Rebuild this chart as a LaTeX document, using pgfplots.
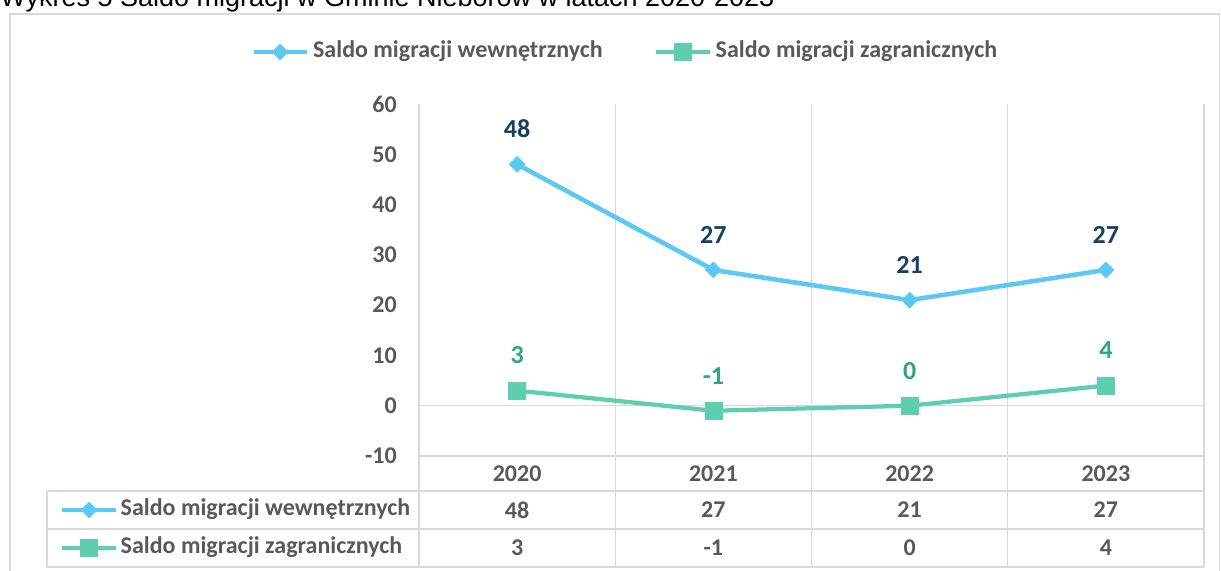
\documentclass[border=0pt]{standalone}
\usepackage{pgfplots}
\usepackage{pgfplotstable}
\pgfplotsset{compat=1.18}
\usepackage{fontspec}
\setmainfont{Carlito}
\newfontfamily\arialf{Liberation Sans}

\definecolor{txt}{HTML}{595959}
\definecolor{grd}{HTML}{D9D9D9}
\definecolor{blu}{HTML}{5BC9F3}
\definecolor{grn}{HTML}{5DCFAF}
\definecolor{navylab}{HTML}{173F62}
\definecolor{grnlab}{HTML}{2FA584}

\pgfplotstableread{
x year w z
0 2020 48 3
1 2021 27 -1
2 2022 21 0
3 2023 27 4
}\migr

\tikzset{lbl/.style={font=\bfseries\fontsize{18}{21}\selectfont}}
\pgfplotsset{
  legimg/.style={
    legend image code/.code={\draw[mark repeat=2,mark phase=2,##1] plot coordinates {(0pt,0pt) (20pt,0pt) (40pt,0pt)};},
    legend cell align=left,
  },
  sblue/.style={blu, line width=3.4pt, line join=round, mark=diamond*, mark size=6pt, mark options={solid, line width=0.4pt, xscale=1.33}},
  sgreen/.style={grn, line width=3.2pt, line join=round, mark=square*, mark size=6.4pt, mark options={solid, line width=0.4pt}},
}

\begin{document}
\begin{tikzpicture}[x=0.75pt,y=-0.75pt]
\useasboundingbox (0,0) rectangle (1221,571);
\node[anchor=base west, inner sep=0pt, font=\arialf\fontsize{20.25}{24}\selectfont] at (0,7) {Wykres 5 Saldo migracji w Gminie Nieborów w latach 2020-2023};
\draw[grd, line width=1.2pt] (10,14) rectangle (1219.5,640);

% siatka wykresu i tabeli danych
\begin{scope}[grd, line width=1.1pt]
\foreach \x in {419,615.25,811.5,1007.75,1204} \draw (\x,104) -- (\x,567);
\draw (419,405.7) -- (1204,405.7);
\draw (419,456) -- (1204,456);
\foreach \y in {491,529,567} \draw (47,\y) -- (1204,\y);
\draw (47,491) -- (47,567);
\end{scope}

\begin{axis}[
  at={(314.25pt,-342pt)}, anchor=south west,
  width=588.75pt, height=264pt, scale only axis,
  xmin=-0.5, xmax=3.5, ymin=-10, ymax=60,
  axis line style={draw=none}, major tick length=0pt, minor tick length=0pt,
  ytick={-10,0,...,60},
  xtick={0,1,2,3}, xticklabels={2020,2021,2022,2023},
  yticklabel style={lbl, text=txt, inner sep=0pt, anchor=east, xshift=-16.5pt},
  xticklabel style={lbl, text=txt, inner sep=0pt, anchor=center, yshift=-13pt},
  /pgf/number format/assume math mode=true,
  clip=false,
  legimg,
  legend columns=2,
  legend style={at={(-0.2140,1.1477)}, anchor=west, draw=none, fill=none, inner sep=0pt,
    lbl, text=txt, nodes={inner sep=0pt, text height=12pt, text depth=4pt},
    /tikz/every odd column/.append style={column sep=3pt},
    /tikz/every even column/.append style={column sep=38.5pt}},
]
\addplot[sblue, nodes near coords, every node near coord/.append style={font=\bfseries\fontsize{19.5}{22}\selectfont, text=navylab, anchor=base, yshift=20pt}] table[x=x,y=w] {\migr};
\addlegendentry{Saldo migracji wewnętrznych}
\addplot[sgreen, nodes near coords, every node near coord/.append style={font=\bfseries\fontsize{19.5}{22}\selectfont, text=grnlab, anchor=base, yshift=20pt}] table[x=x,y=z] {\migr};
\addlegendentry{Saldo migracji zagranicznych}
% wartosci w tabeli danych
\addplot[forget plot, draw=none, mark=none, point meta=explicit, nodes near coords,
  every node near coord/.style={lbl, text=txt, anchor=center}] table[x=x, y expr=-20.74, meta=w] {\migr};
\addplot[forget plot, draw=none, mark=none, point meta=explicit, nodes near coords,
  every node near coord/.style={lbl, text=txt, anchor=center}] table[x=x, y expr=-28.3, meta=z] {\migr};
\end{axis}

% legenda tabeli danych
\begin{axis}[
  at={(314.25pt,-342pt)}, anchor=south west,
  width=588.75pt, height=264pt, scale only axis,
  hide axis, xmin=0, xmax=1, ymin=0, ymax=1,
  legimg,
  legend style={at={(-0.4574,-0.2074)}, anchor=west, draw=none, fill=none, inner sep=0pt,
    lbl, text=txt, nodes={inner sep=0pt, text height=12pt, text depth=4pt}, row sep=12.5pt,
    /tikz/every odd column/.append style={column sep=2pt}},
]
\addlegendimage{sblue}
\addlegendentry{Saldo migracji wewnętrznych}
\addlegendimage{sgreen}
\addlegendentry{Saldo migracji zagranicznych}
\end{axis}
\end{tikzpicture}
\end{document}
